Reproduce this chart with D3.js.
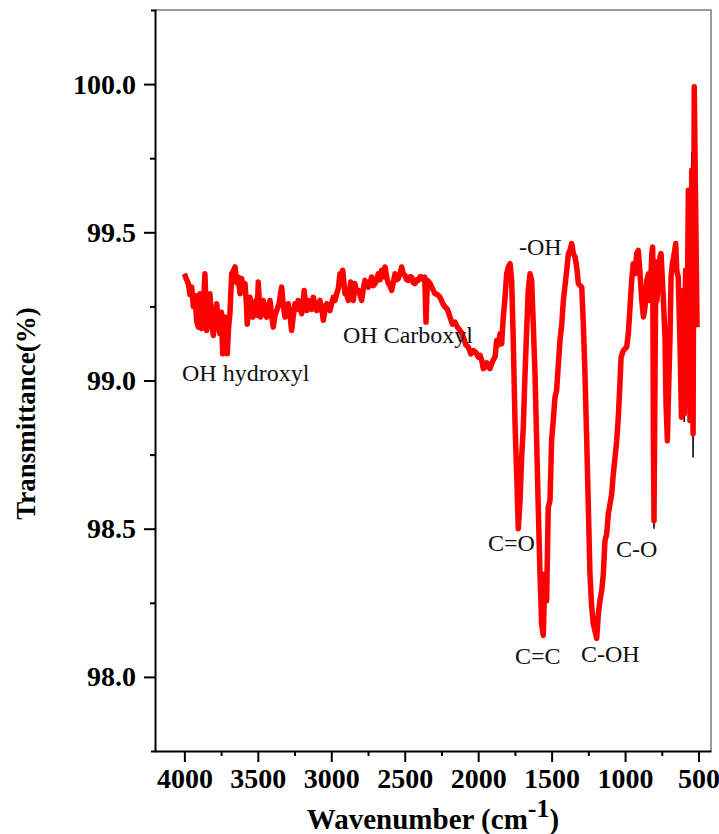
<!DOCTYPE html>
<meta charset="utf-8">
<style>
body { margin: 0; background: #fff; }
svg text { font-family: 'Liberation Serif', 'Times New Roman', serif; }
.tick text { font-family: 'Liberation Serif', 'Times New Roman', serif; font-size: 28px; font-weight: bold; fill: #000; }
.axisTitle { font-weight: bold; }
.note { font-size: 24px; fill: #111; }
</style>
<body>
<script src="https://d3js.org/d3.v7.min.js"></script>
<script>
// FTIR spectrum: [wavenumber cm-1, transmittance %]
const spectrum = [
  [4000,99.36],[3985,99.34],[3973,99.327],[3962,99.29],[3950,99.315],[3939,99.25],[3928,99.287],[3916,99.2],[3905,99.18],[3894,99.293],
  [3882,99.175],[3871,99.25],[3860,99.36],[3848,99.169],[3837,99.22],[3826,99.293],[3814,99.2],[3803,99.152],[3792,99.21],[3780,99.259],
  [3769,99.19],[3758,99.158],[3748,99.23],[3739,99.09],[3731,99.18],[3724,99.214],[3716,99.15],[3708,99.09],[3699,99.18],[3690,99.225],
  [3678,99.36],[3667,99.37],[3655,99.383],[3644,99.33],[3633,99.349],[3621,99.293],[3610,99.344],[3598,99.30],[3587,99.327],[3578,99.26],
  [3572,99.19],[3562,99.25],[3553,99.281],[3544,99.23],[3535,99.214],[3524,99.25],[3513,99.27],[3505,99.22],[3497,99.332],[3489,99.26],
  [3481,99.214],[3472,99.24],[3463,99.27],[3452,99.23],[3440,99.214],[3428,99.25],[3417,99.27],[3406,99.22],[3395,99.18],[3383,99.22],
  [3372,99.236],[3355,99.26],[3338,99.315],[3326,99.25],[3315,99.214],[3304,99.24],[3293,99.259],[3281,99.22],[3270,99.169],[3258,99.22],
  [3247,99.259],[3236,99.24],[3225,99.27],[3213,99.25],[3201,99.225],[3193,99.26],[3184,99.304],[3175,99.25],[3167,99.236],[3156,99.27],
  [3145,99.259],[3133,99.24],[3122,99.281],[3110,99.25],[3099,99.236],[3088,99.26],[3077,99.27],[3065,99.24],[3054,99.203],[3042,99.24],
  [3031,99.259],[3020,99.25],[3009,99.236],[2997,99.26],[2986,99.281],[2975,99.27],[2963,99.293],[2952,99.31],[2941,99.36],[2932,99.33],
  [2922,99.372],[2907,99.293],[2895,99.29],[2884,99.27],[2876,99.30],[2868,99.332],[2859,99.29],[2850,99.27],[2839,99.327],[2828,99.30],
  [2816,99.304],[2805,99.29],[2793,99.27],[2782,99.31],[2770,99.338],[2759,99.32],[2748,99.315],[2736,99.33],[2725,99.349],[2714,99.32],
  [2702,99.327],[2691,99.34],[2680,99.36],[2668,99.34],[2657,99.372],[2645,99.35],[2634,99.383],[2623,99.35],[2612,99.327],[2600,99.32],
  [2589,99.304],[2578,99.33],[2566,99.36],[2555,99.34],[2544,99.344],[2532,99.36],[2521,99.383],[2510,99.36],[2498,99.355],[2487,99.34],
  [2476,99.338],[2464,99.35],[2453,99.349],[2442,99.33],[2430,99.327],[2419,99.34],[2408,99.338],[2396,99.35],[2385,99.349],[2374,99.34],
  [2364,99.349],[2355,99.197],[2346,99.338],[2328,99.327],[2311,99.31],[2294,99.293],[2277,99.29],[2260,99.281],[2243,99.262],[2226,99.248],
  [2209,99.24],[2192,99.214],[2175,99.19],[2158,99.197],[2141,99.18],[2124,99.169],[2112,99.16],[2101,99.146],[2084,99.12],[2067,99.113],
  [2050,99.09],[2033,99.101],[2016,99.095],[1999,99.079],[1987,99.085],[1976,99.068],[1965,99.04],[1953,99.045],[1942,99.06],[1931,99.051],
  [1920,99.04],[1908,99.056],[1897,99.07],[1885,99.079],[1874,99.135],[1862,99.12],[1851,99.158],[1840,99.124],[1829,99.214],[1817,99.281],
  [1806,99.36],[1795,99.383],[1783,99.394],[1772,99.338],[1761,99.135],[1749,98.854],[1738,98.685],[1727,98.5],[1715,98.595],[1704,98.741],
  [1693,98.842],[1681,99.023],[1670,99.169],[1659,99.304],[1647,99.36],[1636,99.338],[1625,99.19],[1613,99.023],[1602,98.797],[1591,98.572],
  [1579,98.347],[1568,98.178],[1557,98.14],[1545,98.347],[1534,98.257],[1523,98.572],[1511,98.595],[1500,98.797],[1489,98.865],[1477,98.944],
  [1466,98.966],[1454,99.056],[1443,99.135],[1431,99.19],[1420,99.27],[1397,99.372],[1386,99.428],[1375,99.439],[1363,99.462],[1352,99.428],
  [1341,99.417],[1329,99.383],[1318,99.327],[1295,99.315],[1284,99.19],[1273,99.023],[1261,98.797],[1250,98.572],[1239,98.347],[1227,98.234],
  [1216,98.178],[1205,98.155],[1193,98.13],[1182,98.212],[1171,98.257],[1159,98.291],[1148,98.347],[1137,98.459],[1125,98.482],[1114,98.55],
  [1091,98.617],[1080,98.685],[1068,98.741],[1057,98.797],[1046,98.876],[1034,99.0],[1027,99.079],[1012,99.101],[989,99.113],[978,99.158],
  [966,99.248],[955,99.338],[944,99.394],[932,99.36],[921,99.428],[910,99.439],[898,99.36],[886,99.27],[875,99.214],[864,99.248],
  [852,99.338],[841,99.36],[830,99.27],[818,99.428],[812,99.45],[807,98.797],[803,98.527],[796,99.023],[790,99.40],[783,99.27],
  [774,99.349],[762,99.417],[755,99.428],[740,99.281],[728,99.146],[721,98.921],[712,98.797],[706,98.921],[694,99.146],[687,99.349],
  [678,99.394],[669,99.417],[655,99.462],[648,99.372],[638,99.349],[626,99.124],[616,98.876],[604,99.304],[597,98.888],[588,99.372],
  [578,99.146],[569,99.642],[558,98.865],[546,99.709],[537,98.82],[529,99.991],[510,99.18]
];

// a few points where the thin black raw trace pokes out past the red one
const rawTips = [[803, 98.50], [597, 98.86], [546, 99.77], [537, 98.74]];

const xTicks = [4000, 3500, 3000, 2500, 2000, 1500, 1000, 500];
const xMinor = [3750, 3250, 2750, 2250, 1750, 1250, 750];
const yTicks = [98.0, 98.5, 99.0, 99.5, 100.0];
const yMinor = [98.25, 98.75, 99.25, 99.75];

const noteText = ["OH hydroxyl", "OH Carboxyl", "-OH", "C=O", "C=C", "C-OH", "C-O"];
const noteWn   = [4016, 2920, 1722, 1933, 1750, 1300, 1062];
const noteT    = [99.0, 99.125, 99.422, 98.426, 98.044, 98.051, 98.405];

const width = 719, height = 834;
const margin = {top: 10, right: 8, bottom: 83, left: 155};

const svg = d3.select("body").append("svg")
    .attr("width", width)
    .attr("height", height);

const x = d3.scaleLinear()
    .domain([4200, 415])
    .range([margin.left, width - margin.right]);

const y = d3.scaleLinear()
    .domain([97.75, 100.25])
    .range([height - margin.bottom, margin.top]);

// grey frame on top and right
svg.append("path")
    .attr("fill", "none")
    .attr("stroke", "#7a7a7a")
    .attr("stroke-width", 1.5)
    .attr("d", `M${x.range()[0]},${y.range()[1]}H${x.range()[1]}V${y.range()[0]}`);

const line = d3.line()
    .x(d => x(d[0]))
    .y(d => y(d[1]));

const tipMap = new Map(rawTips);
const raw = spectrum.map(d => tipMap.has(d[0]) ? [d[0], tipMap.get(d[0])] : d);

svg.append("path")
    .datum(raw)
    .attr("fill", "none")
    .attr("stroke", "#000")
    .attr("stroke-width", 1.5)
    .attr("d", line);

svg.append("path")
    .datum(spectrum)
    .attr("fill", "none")
    .attr("stroke", "#ff0000")
    .attr("stroke-width", 5.5)
    .attr("stroke-linejoin", "round")
    .attr("d", line);

// axes
svg.append("g")
    .attr("transform", `translate(0,${y.range()[0]})`)
    .call(d3.axisBottom(x).tickValues(xTicks).tickFormat(d3.format("d"))
        .tickSize(11).tickSizeOuter(0).tickPadding(6));

svg.append("g")
    .attr("transform", `translate(0,${y.range()[0]})`)
    .call(d3.axisBottom(x).tickValues(xMinor).tickFormat("").tickSize(5))
    .call(g => g.select(".domain").remove());

svg.append("g")
    .attr("transform", `translate(${x.range()[0]},0)`)
    .call(d3.axisLeft(y).tickValues(yTicks).tickFormat(d3.format(".1f"))
        .tickSize(11).tickSizeOuter(4).tickPadding(8));

svg.append("g")
    .attr("transform", `translate(${x.range()[0]},0)`)
    .call(d3.axisLeft(y).tickValues(yMinor).tickFormat("").tickSize(5))
    .call(g => g.select(".domain").remove());

svg.selectAll(".domain, .tick line")
    .attr("stroke", "#000")
    .attr("stroke-width", 2);

svg.selectAll(".tick text")
    .attr("font-family", "'Liberation Serif', serif")
    .attr("font-weight", "bold");

// axis titles
const xt = svg.append("text")
    .attr("class", "axisTitle")
    .attr("x", (x.range()[0] + x.range()[1]) / 2)
    .attr("y", 829)
    .attr("text-anchor", "middle")
    .style("font-size", "29px");
xt.append("tspan").text("Wavenumber (cm");
xt.append("tspan").attr("dy", -12).style("font-size", "26px").text("-1");
xt.append("tspan").attr("dy", 12).text(")");

svg.append("text")
    .attr("class", "axisTitle")
    .attr("transform", `translate(35,${(y.range()[0] + y.range()[1]) / 2 + 33}) rotate(-90)`)
    .attr("text-anchor", "middle")
    .style("font-size", "27px")
    .text("Transmittance(%)");

// peak annotations
svg.append("g")
    .selectAll("text")
    .data(noteText)
    .join("text")
    .attr("class", "note")
    .attr("x", (d, i) => x(noteWn[i]))
    .attr("y", (d, i) => y(noteT[i]))
    .text(d => d);
</script>
</body>
